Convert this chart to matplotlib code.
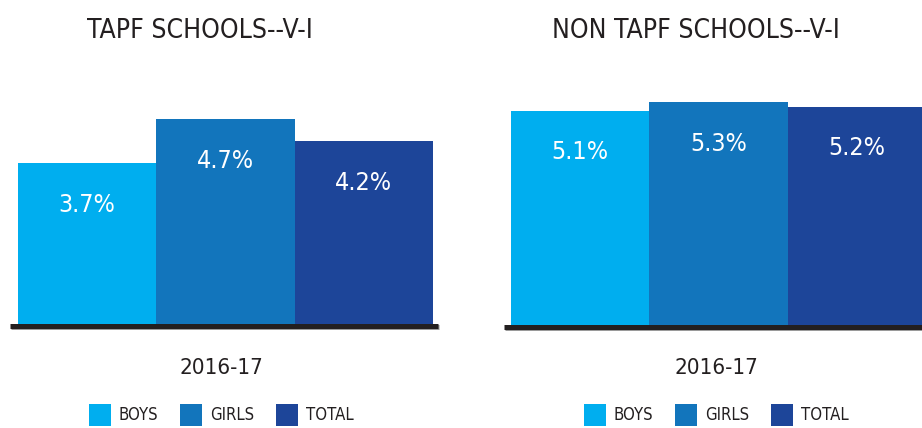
import matplotlib.pyplot as plt
import matplotlib.transforms as mtransforms
from matplotlib.patches import Patch

categories = ['BOYS', 'GIRLS', 'TOTAL']
tapf_values = [3.7, 4.7, 4.2]
non_tapf_values = [5.1, 5.3, 5.2]
year_label = '2016-17'

colors = ['#00AEEF', '#1275BC', '#1D4599']
plt.rcParams['font.family'] = ['DejaVu Sans']
plt.rcParams['font.stretch'] = 'condensed'

W, H = 922, 428
fig = plt.figure(figsize=(W / 100, H / 100), dpi=100)


def panel(x0, x1, top, bottom, values, title, xlim, ytop, title_x, label_x):
    ax = fig.add_axes([x0 / W, 1 - bottom / H, (x1 - x0) / W, (bottom - top) / H])
    x = range(len(values))
    bars = ax.bar(x, values, width=1.0, color=colors, edgecolor='none')
    for b, v in zip(bars, values):
        ax.annotate(f'{v}%', (b.get_x() + b.get_width() / 2, v), xytext=(0, -30),
                    textcoords='offset points', ha='center', va='center',
                    color='white', fontsize=18)
    ax.set_xlim(*xlim)
    ax.set_ylim(0, ytop)
    for s in ['top', 'right', 'left', 'bottom']:
        ax.spines[s].set_visible(False)
    # thick base line with a faint grey shadow below
    shadow = mtransforms.offset_copy(ax.transAxes, fig=fig, x=1 / 100, y=-1.5 / 100)
    ax.plot([0, 1], [0, 0], transform=shadow, color='#9a9a9a', lw=3.6,
            solid_capstyle='butt', clip_on=False, zorder=3)
    ax.plot([0, 1], [0, 0], transform=ax.transAxes, color='#231F20', lw=3.6,
            solid_capstyle='butt', clip_on=False, zorder=4)
    ax.set_xticks([])
    ax.set_yticks([])
    fig.text(title_x / W, 1 - 31 / H, title, ha='center', va='center',
             fontsize=19, color='#231F20')
    fig.text(label_x / W, 1 - 368 / H, year_label, ha='center', va='center',
             fontsize=16, color='#231F20')
    handles = [Patch(facecolor=c, edgecolor='none') for c in colors]
    fig.legend(handles, categories, loc='center', ncol=3,
               bbox_to_anchor=(label_x / W, 1 - 415 / H), frameon=False,
               fontsize=12, handlelength=1.35, handleheight=1.6,
               handletextpad=0.45, columnspacing=1.3, labelcolor='#231F20')
    return ax


panel(10, 438, 60, 325.5, tapf_values, 'TAPF SCHOOLS--V-I',
      (-0.5 - 8 / 139, 2.5 + 5 / 139), 6.05, 200, 221)
panel(504, 922, 60, 326.5, non_tapf_values, 'NON TAPF SCHOOLS--V-I',
      (-0.5 - 7 / 139, 2.5 - 4 / 139), 6.3, 696, 716)

fig.savefig('out.png', dpi=100)
